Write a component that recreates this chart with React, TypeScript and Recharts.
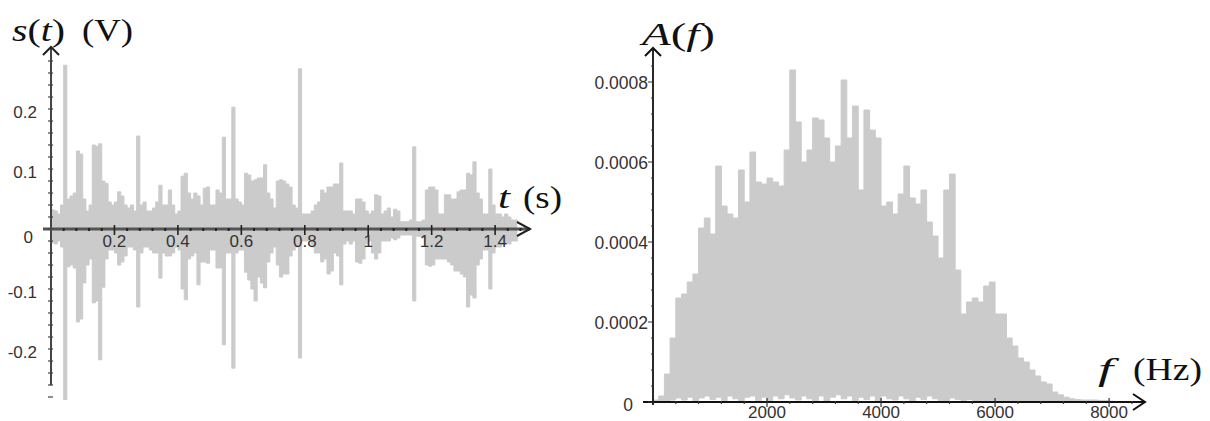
import { Area, ComposedChart, ReferenceDot, ReferenceLine, XAxis, YAxis } from "recharts";

// s(t): sampled every 10 ms, upper and lower envelope of the trace (V)
const SIGNAL_STEP_S = 0.01;
const SIGNAL_HIGH = [
  0.032, 0.03, 0.025, 0.04, 0.273, 0.05, 0.055, 0.06, 0.13, 0.125,
  0.05, 0.03, 0.04, 0.14, 0.138, 0.142, 0.08, 0.076, 0.045, 0.04,
  0.045, 0.062, 0.055, 0.04, 0.035, 0.04, 0.03, 0.155, 0.04, 0.045,
  0.03, 0.03, 0.035, 0.045, 0.073, 0.04, 0.04, 0.065, 0.04, 0.025,
  0.03, 0.088, 0.093, 0.06, 0.05, 0.06, 0.055, 0.04, 0.068, 0.07,
  0.04, 0.04, 0.065, 0.06, 0.153, 0.05, 0.05, 0.203, 0.05, 0.045,
  0.04, 0.093, 0.09, 0.08, 0.082, 0.085, 0.085, 0.107, 0.06, 0.05,
  0.035, 0.08, 0.082, 0.08, 0.075, 0.07, 0.04, 0.035, 0.267, 0.025,
  0.025, 0.025, 0.03, 0.04, 0.045, 0.065, 0.06, 0.07, 0.07, 0.075,
  0.075, 0.11, 0.03, 0.03, 0.03, 0.025, 0.05, 0.05, 0.045, 0.03,
  0.025, 0.03, 0.057, 0.055, 0.025, 0.03, 0.035, 0.02, 0.033, 0.03,
  0.012, 0.012, 0.012, 0.015, 0.137, 0.012, 0.012, 0.015, 0.065, 0.07,
  0.07, 0.065, 0.025, 0.025, 0.057, 0.057, 0.05, 0.05, 0.062, 0.065,
  0.065, 0.093, 0.09, 0.112, 0.06, 0.05, 0.025, 0.025, 0.1, 0.04,
  0.025, 0.025, 0.02, 0.025, 0.02, 0.015, 0.015, 0.01,
];
const SIGNAL_LOW = [
  -0.023, -0.025, -0.02, -0.03, -0.285, -0.063, -0.06, -0.065, -0.155, -0.15,
  -0.09, -0.06, -0.05, -0.123, -0.12, -0.218, -0.097, -0.05, -0.035, -0.035,
  -0.04, -0.06, -0.055, -0.045, -0.03, -0.03, -0.035, -0.13, -0.04, -0.03,
  -0.03, -0.035, -0.04, -0.04, -0.082, -0.04, -0.045, -0.045, -0.04, -0.03,
  -0.035, -0.1, -0.118, -0.05, -0.045, -0.04, -0.093, -0.055, -0.055, -0.057,
  -0.035, -0.035, -0.065, -0.065, -0.193, -0.04, -0.04, -0.232, -0.04, -0.035,
  -0.035, -0.072, -0.085, -0.1, -0.12, -0.08, -0.09, -0.098, -0.055, -0.04,
  -0.03, -0.06, -0.08, -0.075, -0.075, -0.045, -0.035, -0.03, -0.215, -0.02,
  -0.02, -0.02, -0.03, -0.04, -0.04, -0.055, -0.05, -0.075, -0.07, -0.04,
  -0.045, -0.093, -0.025, -0.02, -0.025, -0.02, -0.055, -0.057, -0.05, -0.025,
  -0.02, -0.04, -0.05, -0.04, -0.02, -0.02, -0.02, -0.015, -0.018, -0.015,
  -0.01, -0.01, -0.01, -0.01, -0.12, -0.012, -0.012, -0.015, -0.06, -0.062,
  -0.06, -0.05, -0.05, -0.05, -0.05, -0.055, -0.06, -0.07, -0.07, -0.075,
  -0.08, -0.13, -0.11, -0.115, -0.06, -0.05, -0.035, -0.035, -0.1, -0.04,
  -0.03, -0.03, -0.025, -0.025, -0.025, -0.02, -0.02, -0.01,
];

// A(f): 100 Hz bins, upper and lower edge of the spectrum, in units of 1e-4
const SPECTRUM_STEP_HZ = 100;
const SPECTRUM_HIGH = [
  0.05, 0.15, 0.7, 1.6, 2.6, 2.7, 3.0, 3.2, 4.35, 4.6,
  4.2, 5.9, 4.9, 4.7, 4.6, 5.8, 5.0, 6.25, 5.5, 5.45,
  5.6, 5.5, 5.4, 6.3, 8.3, 7.0, 6.0, 6.3, 7.1, 7.05,
  6.6, 6.0, 6.4, 8.05, 6.6, 7.4, 5.3, 7.3, 6.8, 6.6,
  4.9, 5.0, 4.7, 5.2, 5.9, 5.1, 4.95, 5.3, 4.5, 4.15,
  3.6, 5.3, 5.7, 3.3, 2.2, 2.5, 2.6, 2.5, 2.9, 3.0,
  2.2, 2.2, 1.6, 1.4, 1.1, 1.0, 0.8, 0.65, 0.5, 0.45,
  0.25, 0.18, 0.12, 0.08, 0.06, 0.05, 0.05, 0.05, 0.04, 0.04,
  0.02, 0,
];
const SPECTRUM_LOW = [
  0, 0, 0.02, 0.05, 0.1, 0.05, 0.12, 0.03, 0.1, 0.15,
  0.06, 0.12, 0.03, 0.15, 0.08, 0.02, 0.12, 0.15, 0.04, 0.12,
  0.02, 0.15, 0.08, 0.18, 0.1, 0.05, 0.15, 0.08, 0.03, 0.15,
  0.02, 0.12, 0.18, 0.08, 0.15, 0.04, 0.12, 0.06, 0.15, 0.03,
  0.15, 0.08, 0.05, 0.15, 0.08, 0.03, 0.12, 0.06, 0.15, 0.08,
  0.04, 0.02, 0.1, 0.06, 0.04, 0.06, 0.02, 0.04, 0.02, 0.04,
  0.02, 0, 0, 0, 0, 0, 0, 0, 0, 0,
  0, 0, 0, 0, 0, 0, 0, 0, 0, 0,
  0, 0,
];

const T_MAJOR = [0.2, 0.4, 0.6, 0.8, 1, 1.2, 1.4];
const T_MINOR = [
  0.04, 0.08, 0.12, 0.16, 0.24, 0.28, 0.32, 0.36, 0.44, 0.48, 0.52, 0.56,
  0.64, 0.68, 0.72, 0.76, 0.84, 0.88, 0.92, 0.96, 1.04, 1.08, 1.12, 1.16,
  1.24, 1.28, 1.32, 1.36, 1.44, 1.48,
];
const S_TICKS = [
  -0.28, -0.26, -0.24, -0.22, -0.2, -0.18, -0.16, -0.14, -0.12, -0.1, -0.08,
  -0.06, -0.04, -0.02, 0, 0.02, 0.04, 0.06, 0.08, 0.1, 0.12, 0.14, 0.16, 0.18,
  0.2, 0.22, 0.24, 0.26, 0.28,
];
const F_TICKS = [
  400, 800, 1200, 1600, 2000, 2400, 2800, 3200, 3600, 4000, 4400, 4800, 5200,
  5600, 6000, 6400, 6800, 7200, 7600, 8000, 8400,
];
const A_TICKS = [
  0, 0.00004, 0.00008, 0.00012, 0.00016, 0.0002, 0.00024, 0.00028, 0.00032,
  0.00036, 0.0004, 0.00044, 0.00048, 0.00052, 0.00056, 0.0006, 0.00064,
  0.00068, 0.00072, 0.00076, 0.0008, 0.00084,
];

const signalData = SIGNAL_HIGH.map((hi, i) => ({
  t: +(i * SIGNAL_STEP_S).toFixed(2),
  band: [SIGNAL_LOW[i], hi],
}));

const spectrumData = SPECTRUM_HIGH.map((hi, i) => ({
  f: i * SPECTRUM_STEP_HZ,
  band: [SPECTRUM_LOW[i] * 1e-4, hi * 1e-4],
}));

const GRAY = "#cbcbcb";
const SANS = "'Liberation Sans', Arial, sans-serif";
const SERIF = "'Liberation Serif', 'Times New Roman', serif";

function SignalYTick({ x, y, payload }: any) {
  const v = payload.value;
  const major = Math.abs(v * 10 - Math.round(v * 10)) < 1e-6;
  const label = v === 0 ? "0" : String(Math.round(v * 10) / 10);
  return (
    <g>
      <line x1={x - 3} x2={x + 2} y1={y} y2={y} stroke="#444" strokeWidth={1.2} />
      {major && (
        <text
          x={v === 0 ? x - 18 : x - 14}
          y={v === 0 ? y + 8 : y + 3}
          textAnchor="end"
          dominantBaseline="central"
          fontSize={17}
          fontFamily={SANS}
          fill="#333"
        >
          {label}
        </text>
      )}
    </g>
  );
}

function SpectrumYTick({ x, y, payload }: any) {
  const v = payload.value;
  const k = v / 0.0002;
  const major = Math.abs(k - Math.round(k)) < 1e-6;
  return (
    <g>
      <line x1={x - (major ? 5 : 2)} x2={x + 1} y1={y} y2={y} stroke="#333" strokeWidth={1} />
      {major && (
        <text
          x={v === 0 ? x - 20 : x - 5}
          y={v === 0 ? y + 3 : y + 1}
          textAnchor="end"
          dominantBaseline="central"
          fontSize={17.5}
          fontFamily={SANS}
          fill="#333"
        >
          {v === 0 ? "0" : v.toFixed(4)}
        </text>
      )}
    </g>
  );
}

function SpectrumXTick({ x, y, payload }: any) {
  const v = payload.value;
  const major = v % 2000 === 0;
  return (
    <g>
      <line x1={x} x2={x} y1={y - (major ? 4 : 1)} y2={y + (major ? 5 : 2)} stroke="#333" strokeWidth={1.2} />
      {major && (
        <text x={x} y={y + 16} textAnchor="middle" fontSize={17} fontFamily={SANS} fill="#333">
          {v}
        </text>
      )}
    </g>
  );
}

function SignalVAxis(p: any) {
  const top = Math.min(p.y1, p.y2);
  const bot = Math.max(p.y1, p.y2);
  const x = p.x1;
  return (
    <g>
      <line x1={x} x2={x} y1={top - 1} y2={bot} stroke="#444" strokeWidth={2} />
      <path d={`M${x - 8},${top + 6} L${x},${top - 2} L${x + 8},${top + 6}`} fill="none" stroke="#222" strokeWidth={2} />
    </g>
  );
}

function SignalHAxis(p: any) {
  const y = p.y1;
  const x2 = Math.max(p.x1, p.x2);
  const x1 = Math.min(p.x1, p.x2);
  return (
    <g>
      <line x1={x1 - 8} x2={x2} y1={y} y2={y} stroke="#555" strokeWidth={3} />
      <path d={`M${x2 - 13},${y - 7} L${x2},${y} L${x2 - 13},${y + 7}`} fill="none" stroke="#222" strokeWidth={2} />
    </g>
  );
}

function SpectrumVAxis(p: any) {
  const top = Math.min(p.y1, p.y2);
  const bot = Math.max(p.y1, p.y2);
  const x = p.x1;
  return (
    <g>
      <line x1={x} x2={x} y1={top} y2={bot + 3} stroke="#111" strokeWidth={1.8} />
      <path d={`M${x - 8},${top + 8} L${x},${top} L${x + 8},${top + 8}`} fill="none" stroke="#111" strokeWidth={2} />
    </g>
  );
}

function SpectrumHAxis(p: any) {
  const y = p.y1;
  const x2 = Math.max(p.x1, p.x2);
  const x1 = Math.min(p.x1, p.x2);
  return (
    <g>
      <line x1={x1 - 10} x2={x2} y1={y} y2={y} stroke="#111" strokeWidth={1.8} />
      <path d={`M${x2 - 12},${y - 8} L${x2},${y} L${x2 - 12},${y + 8}`} fill="none" stroke="#111" strokeWidth={2} />
    </g>
  );
}

function MinorDot(p: any) {
  return <rect x={p.cx - 1} y={p.cy - 1} width={2} height={3} fill="#222" />;
}

function majorTick(label: string) {
  return (p: any) => (
    <g>
      <line x1={p.cx} x2={p.cx} y1={p.cy - 4} y2={p.cy + 6} stroke="#222" strokeWidth={1.6} />
      <text x={p.cx} y={p.cy + 18} textAnchor="middle" fontSize={17} fontFamily={SANS} fill="#333">
        {label}
      </text>
    </g>
  );
}

export default function App() {
  return (
    <div style={{ position: "absolute", left: 0, top: 0, width: 1210, height: 421, background: "#fff" }}>
      <div style={{ position: "absolute", left: 0, top: 0 }}>
        <ComposedChart width={580} height={421} data={signalData} margin={{ top: 49, right: 50, bottom: 21, left: 0 }}>
          <XAxis type="number" dataKey="t" domain={[0, 1.51]} hide allowDataOverflow />
          <YAxis
            type="number"
            domain={[-0.285, 0.3]}
            ticks={S_TICKS}
            interval={0}
            width={51}
            axisLine={false}
            tickLine={false}
            tickSize={0}
            tickMargin={0}
            tick={<SignalYTick />}
            allowDataOverflow
          />
          <Area
            dataKey="band"
            type="stepAfter"
            fill={GRAY}
            fillOpacity={1}
            stroke={GRAY}
            strokeWidth={1}
            dot={false}
            activeDot={false}
            isAnimationActive={false}
          />
          <ReferenceLine segment={[{ x: 0, y: -0.26 }, { x: 0, y: 0.3 }]} shape={SignalVAxis} />
          <ReferenceLine y={0} shape={SignalHAxis} />
          {T_MINOR.map((t) => (
            <ReferenceDot key={`m${t}`} x={t} y={0} r={1} shape={MinorDot} />
          ))}
          {T_MAJOR.map((t) => (
            <ReferenceDot key={`M${t}`} x={t} y={0} r={1} shape={majorTick(String(t))} />
          ))}
        </ComposedChart>
      </div>
      <div style={{ position: "absolute", left: 580, top: 0 }}>
        <ComposedChart width={630} height={421} data={spectrumData} margin={{ top: 48, right: 65, bottom: 0, left: 0 }}>
          <XAxis
            type="number"
            dataKey="f"
            domain={[0, 8630]}
            ticks={F_TICKS}
            interval={0}
            height={19}
            axisLine={false}
            tickLine={false}
            tickSize={0}
            tickMargin={0}
            tick={<SpectrumXTick />}
            allowDataOverflow
          />
          <YAxis
            type="number"
            domain={[0, 0.000885]}
            ticks={A_TICKS}
            interval={0}
            width={73}
            axisLine={false}
            tickLine={false}
            tickSize={0}
            tickMargin={0}
            tick={<SpectrumYTick />}
            allowDataOverflow
          />
          <Area
            dataKey="band"
            type="stepAfter"
            fill={GRAY}
            fillOpacity={1}
            stroke={GRAY}
            strokeWidth={1}
            dot={false}
            activeDot={false}
            isAnimationActive={false}
          />
          <ReferenceLine x={0} shape={SpectrumVAxis} />
          <ReferenceLine y={0} shape={SpectrumHAxis} />
        </ComposedChart>
      </div>
      <svg width={1210} height={421} style={{ position: "absolute", left: 0, top: 0, pointerEvents: "none" }}>
        <g fontFamily={SERIF} fontSize={32} fill="#111">
          <text x={12} y={41} textLength={53} lengthAdjust="spacingAndGlyphs">
            <tspan fontStyle="italic">s</tspan>(<tspan fontStyle="italic">t</tspan>)
          </text>
          <text x={82} y={41} textLength={51} lengthAdjust="spacingAndGlyphs">(V)</text>
          <text x={498} y={208} fontStyle="italic" textLength={12} lengthAdjust="spacingAndGlyphs">t</text>
          <text x={523} y={208} textLength={39} lengthAdjust="spacingAndGlyphs">(s)</text>
          <text x={642} y={45} textLength={73} lengthAdjust="spacingAndGlyphs">
            <tspan fontStyle="italic">A</tspan>(<tspan fontStyle="italic">f</tspan>)
          </text>
          <text x={1098} y={380} fontStyle="italic" textLength={15} lengthAdjust="spacingAndGlyphs">f</text>
          <text x={1133} y={380} textLength={69} lengthAdjust="spacingAndGlyphs">(Hz)</text>
        </g>
      </svg>
    </div>
  );
}
